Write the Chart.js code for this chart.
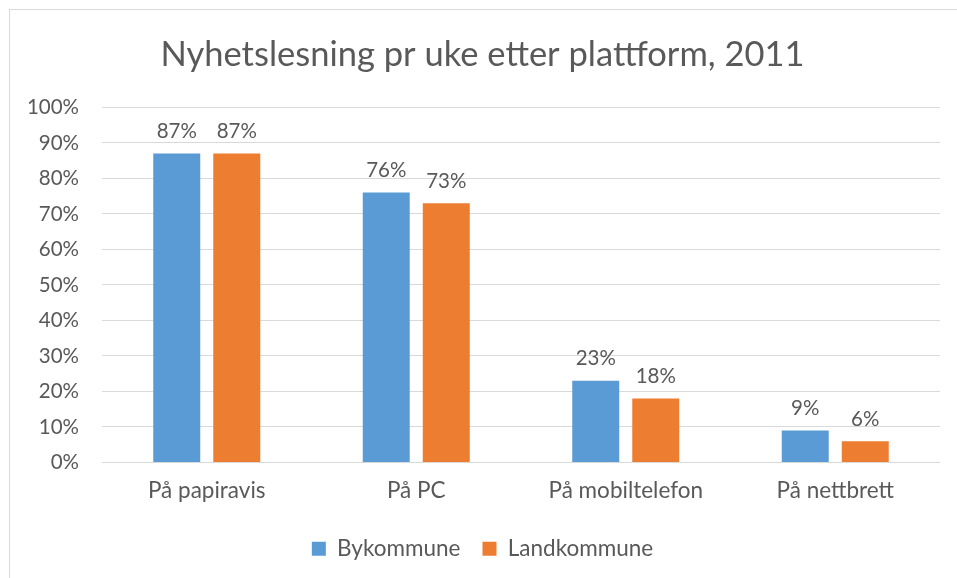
<!DOCTYPE html>
<html>
<head>
<meta charset="utf-8">
<script src="https://cdn.jsdelivr.net/npm/chart.js@4"></script>
<style>
  html, body { margin: 0; padding: 0; background: #fff; }
  #frame {
    position: absolute;
    left: 9px;
    top: 9px;
    width: 960px;
    height: 580px;
    border: 1px solid #d9d9d9;
  }
  #wrap { position: absolute; left: 0; top: 0; width: 947px; height: 568px; }
</style>
</head>
<body>
<div id="frame">
  <div id="wrap"><canvas id="chart"></canvas></div>
</div>
<script>
const categories = ["På papiravis", "På PC", "På mobiltelefon", "På nettbrett"];
const bykommune = [87, 76, 23, 9];
const landkommune = [87, 73, 18, 6];
const yTicks = [0, 10, 20, 30, 40, 50, 60, 70, 80, 90, 100];

const textColor = "#595959";
const fontFamily = "Lato, 'Open Sans', sans-serif";

// draw the value above each bar
const valueLabels = {
  id: "valueLabels",
  afterDatasetsDraw(chart) {
    const ctx = chart.ctx;
    ctx.save();
    ctx.fillStyle = textColor;
    ctx.font = "20.5px " + fontFamily;
    ctx.textAlign = "center";
    ctx.textBaseline = "bottom";
    chart.data.datasets.forEach(function (ds, i) {
      chart.getDatasetMeta(i).data.forEach(function (bar, j) {
        ctx.fillText(ds.data[j] + "%", bar.x, bar.y - 12);
      });
    });
    ctx.restore();
  },
};

new Chart(document.getElementById("chart"), {
  type: "bar",
  data: {
    labels: categories,
    datasets: [
      {
        label: "Bykommune",
        data: bykommune,
        backgroundColor: "#5b9bd5",
        categoryPercentage: 0.573,
        barPercentage: 0.783,
      },
      {
        label: "Landkommune",
        data: landkommune,
        backgroundColor: "#ed7d31",
        categoryPercentage: 0.573,
        barPercentage: 0.783,
      },
    ],
  },
  options: {
    responsive: true,
    maintainAspectRatio: false,
    animation: false,
    layout: { padding: { top: 20, right: 17, bottom: 8, left: 15 } },
    plugins: {
      title: {
        display: true,
        text: "Nyhetslesning pr uke etter plattform, 2011",
        color: textColor,
        font: { family: fontFamily, size: 34.5, weight: "normal" },
        padding: { top: 4, bottom: 32 },
      },
      legend: {
        position: "bottom",
        labels: {
          color: textColor,
          font: { family: fontFamily, size: 22.5 },
          boxWidth: 14,
          boxHeight: 14,
          padding: 22,
        },
      },
      tooltip: { enabled: false },
    },
    scales: {
      x: {
        grid: { display: false, drawTicks: false },
        border: { display: false },
        ticks: {
          color: textColor,
          font: { family: fontFamily, size: 22.5 },
          padding: 15,
        },
        afterFit: function (scale) {
          scale.height = 53;
        },
      },
      y: {
        min: 0,
        max: 100,
        grid: { color: "#d9d9d9", lineWidth: 1, drawTicks: false },
        border: { display: false },
        afterBuildTicks: function (scale) {
          scale.ticks = yTicks.map((v) => ({ value: v }));
        },
        ticks: {
          color: textColor,
          font: { family: fontFamily, size: 20.5 },
          padding: 23,
          callback: (v) => v + "%",
        },
        afterFit: function (scale) {
          scale.width = 77;
        },
      },
    },
  },
  plugins: [valueLabels],
});
</script>
</body>
</html>
